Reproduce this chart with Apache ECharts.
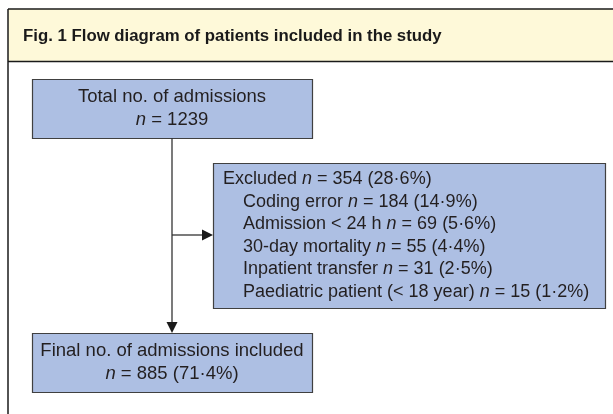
<!DOCTYPE html>
<html>
<head>
<meta charset="utf-8">
<script src="https://cdn.jsdelivr.net/npm/echarts@6/dist/echarts.min.js"></script>
<style>html,body{margin:0;padding:0;background:#fff}#c{width:613px;height:414px}</style>
</head>
<body>
<div id="c"></div>
<script>
// ---- data ----
const figureTitle = 'Fig. 1 Flow diagram of patients included in the study';
const totalLabel = 'Total no. of admissions';
const totalN = 1239;
const excludedLabel = 'Excluded';
const excludedN = 354;
const excludedPct = '28·6%';
const exclusionReasons = ['Coding error', 'Admission < 24 h', '30-day mortality', 'Inpatient transfer', 'Paediatric patient (< 18 year)'];
const exclusionCounts = [184, 69, 55, 31, 15];
const exclusionPcts = ['14·9%', '5·6%', '4·4%', '2·5%', '1·2%'];
const finalLabel = 'Final no. of admissions included';
const finalN = 885;
const finalPct = '71·4%';

// ---- layout (canvas units) ----
const W = 613, H = 414;
const FONT = '"Liberation Sans", Arial, Helvetica, sans-serif';
const boxFill = '#adbfe3';
const boxStroke = '#404040';
const textColor = '#231f20';

const totalBox = [32, 79, 312, 138];
const exclBox = [213, 163, 605, 308];
const finalBox = [32, 333, 312, 392];
const stemX = 172;
const branchY = 235;

function nEq(n, pct) {
  return '{i|n} = ' + n + (pct ? ' (' + pct + ')' : '');
}

function renderItem(params, api) {
  const p = (x, y) => api.coord([x, y]);
  const children = [];
  const richFor = (fs) => ({ i: { fontStyle: 'italic', fontFamily: FONT, fontSize: fs, fill: textColor } });

  // header band
  const h0 = p(8, 9), h1 = p(W, 61.5);
  children.push({ type: 'rect', shape: { x: h0[0], y: h0[1], width: h1[0] - h0[0], height: h1[1] - h0[1] },
    style: { fill: '#fef9d9', stroke: null } });
  children.push({ type: 'line', shape: { x1: h0[0], y1: h0[1], x2: h1[0], y2: h0[1] }, style: { stroke: '#1a1a1a', lineWidth: 1.5 } });
  children.push({ type: 'line', shape: { x1: h0[0], y1: h1[1], x2: h1[0], y2: h1[1] }, style: { stroke: '#1a1a1a', lineWidth: 1.5 } });
  const lb = p(8, H);
  children.push({ type: 'line', shape: { x1: h0[0], y1: h0[1], x2: h0[0], y2: lb[1] }, style: { stroke: '#1a1a1a', lineWidth: 1.5 } });
  const tp = p(23, 36.5);
  children.push({ type: 'text', style: { text: figureTitle, x: tp[0], y: tp[1], font: 'bold 16.8px ' + FONT, fill: '#1a1a1a', verticalAlign: 'middle' } });

  function box(b) {
    const a = p(b[0], b[1]), c = p(b[2], b[3]);
    children.push({ type: 'rect', shape: { x: a[0] + 0.5, y: a[1] + 0.5, width: c[0] - a[0], height: c[1] - a[1] },
      style: { fill: boxFill, stroke: boxStroke, lineWidth: 1.2 } });
  }
  box(totalBox); box(exclBox); box(finalBox);

  function centerText(b, lines) {
    const cx = p((b[0] + b[2]) / 2, 0)[0];
    const cy = p(0, (b[1] + b[3]) / 2)[1];
    children.push({ type: 'text', style: { text: lines.join('\n'), x: cx, y: cy, align: 'center', verticalAlign: 'middle',
      fontSize: 18.5, fontFamily: FONT, fill: textColor, lineHeight: 23, rich: richFor(18.5) } });
  }
  centerText(totalBox, [totalLabel, nEq(totalN)]);
  centerText(finalBox, [finalLabel, nEq(finalN, finalPct)]);

  // excluded box text
  const ex = p(exclBox[0] + 10, exclBox[1] + 16);
  children.push({ type: 'text', style: { text: excludedLabel + ' ' + nEq(excludedN, excludedPct), x: ex[0], y: ex[1],
    verticalAlign: 'middle', fontSize: 18, fontFamily: FONT, fill: textColor, rich: richFor(18) } });
  exclusionReasons.forEach((r, k) => {
    const q = p(exclBox[0] + 30, exclBox[1] + 16 + 22.6 * (k + 1));
    children.push({ type: 'text', style: { text: r + ' ' + nEq(exclusionCounts[k], exclusionPcts[k]), x: q[0], y: q[1],
      verticalAlign: 'middle', fontSize: 18, fontFamily: FONT, fill: textColor, rich: richFor(18) } });
  });

  // connectors
  const s0 = p(stemX, totalBox[3]), s1 = p(stemX, finalBox[1]);
  children.push({ type: 'line', shape: { x1: s0[0], y1: s0[1], x2: s1[0], y2: s1[1] - 10 }, style: { stroke: '#333', lineWidth: 1.3 } });
  children.push({ type: 'polygon', shape: { points: [[s1[0] - 5.5, s1[1] - 11], [s1[0] + 5.5, s1[1] - 11], [s1[0], s1[1]]] }, style: { fill: '#1a1a1a' } });
  const b0 = p(stemX, branchY), b1 = p(exclBox[0], branchY);
  children.push({ type: 'line', shape: { x1: b0[0], y1: b0[1], x2: b1[0] - 10, y2: b1[1] }, style: { stroke: '#333', lineWidth: 1.3 } });
  children.push({ type: 'polygon', shape: { points: [[b1[0] - 11, b1[1] - 5.5], [b1[0] - 11, b1[1] + 5.5], [b1[0], b1[1]]] }, style: { fill: '#1a1a1a' } });

  return { type: 'group', children: children };
}

const chart = echarts.init(document.getElementById('c'), null, { renderer: 'canvas' });
chart.setOption({
  animation: false,
  backgroundColor: '#ffffff',
  grid: { left: 0, right: 0, top: 0, bottom: 0 },
  xAxis: { type: 'value', min: 0, max: W, show: false },
  yAxis: { type: 'value', min: 0, max: H, inverse: true, show: false },
  series: [{ type: 'custom', renderItem: renderItem, data: [[0, 0]], clip: false }]
});
</script>
</body>
</html>
